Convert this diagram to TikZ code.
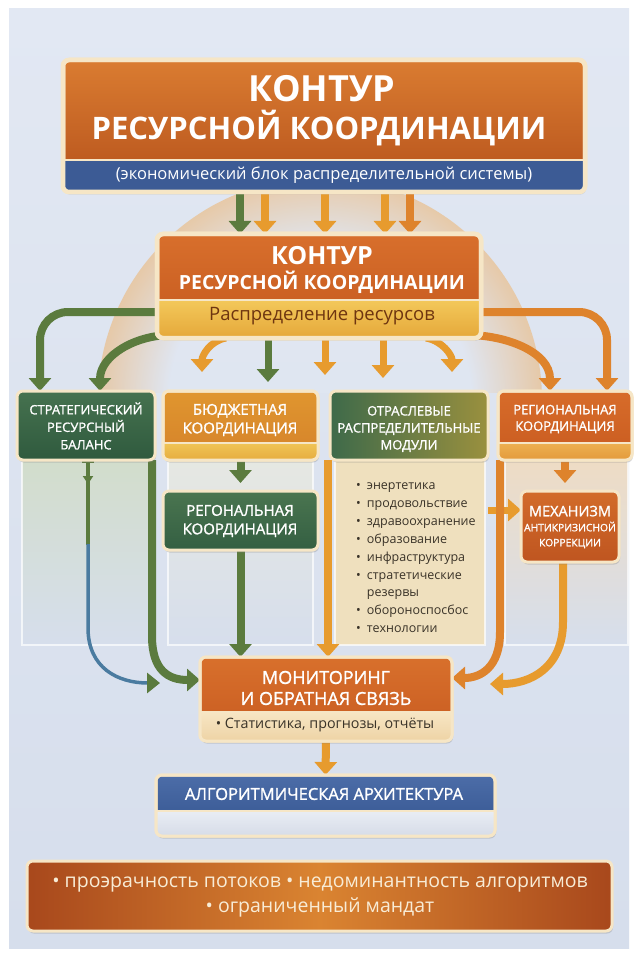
\documentclass[tikz,border=0pt]{standalone}
\usepackage{fontspec}
\setmainfont{Open Sans}
\newfontfamily\semib[FakeBold=1.3]{Open Sans}
\usetikzlibrary{arrows.meta,shadows,calc}
\pgfdeclarelayer{bgl}\pgfdeclarelayer{arl}\pgfsetlayers{bgl,arl,main}
\newcommand\dc[1]{\definecolor{h#1}{HTML}{#1}}
\dc{D2DDCB}\dc{E6E8E2}\dc{EFE0BE}\dc{EEDCC4}\dc{DA7C31}\dc{B5511B}\dc{D86F2C}\dc{C4581E}
\dc{F3C85A}\dc{E5A83A}\dc{46724F}\dc{2F5A3E}\dc{E0962F}\dc{D5822A}\dc{F0C455}\dc{E6AD40}
\dc{3E6A4A}\dc{9A903E}\dc{D76C2A}\dc{C95B20}\dc{EDB050}\dc{E39A3C}\dc{4A7550}\dc{345F42}
\dc{D26C2A}\dc{BF5520}\dc{D8702C}\dc{C75A20}\dc{F7E6C4}\dc{EED3A5}\dc{4C6DA8}\dc{33538E}
\dc{E9EDF4}\dc{D6DCE8}\dc{A8481C}\dc{DA8431}
\definecolor{bgA}{HTML}{E2E8F3}
\definecolor{bgB}{HTML}{D6DEEC}
\definecolor{cream}{HTML}{F6E6C6}
\definecolor{blu}{HTML}{3C5B95}
\definecolor{arG}{HTML}{5B7B3E}
\definecolor{arO}{HTML}{E79B2E}
\definecolor{arO2}{HTML}{DE832C}
\definecolor{arB}{HTML}{4A7BA0}
\definecolor{txtBr}{HTML}{6E3510}
\definecolor{txtD}{HTML}{3A3328}
\definecolor{glowC}{HTML}{EDB36E}
\definecolor{crT}{HTML}{F8ECD6}
\pgfdeclareradialshading{glowsh}{\pgfpoint{0bp}{0bp}}{color(0bp)=(bgA); color(17bp)=(bgA); color(25bp)=(glowC); color(50bp)=(glowC)}
\newcommand\mkstrip[4]{%
  \path[#3] (#1.west |- 0,#2) [rounded corners=5pt] -- (#1.south west) -- (#1.south east) [sharp corners] -- (#1.east |- 0,#2) -- cycle;
  \draw[cream, line width=1.2pt] (#1.west |- 0,#2) -- (#1.east |- 0,#2);
  \draw[cream, line width=#4, rounded corners=6pt] (#1.north west) rectangle (#1.south east);}
\begin{document}
\begin{tikzpicture}[x=1pt,y=-1pt,
  box/.style={draw=cream, line width=3pt, rounded corners=6pt, outer sep=0pt, inner sep=0pt, anchor=north west,
    drop shadow={shadow xshift=1pt,shadow yshift=-2.5pt,opacity=.3}},
  wl/.style={text=white, align=center, inner sep=0pt},
  ga/.style={draw=arG, line width=8pt, -{Triangle[width=22pt,length=13pt]}},
  oa/.style={draw=arO, line width=8pt, -{Triangle[width=22pt,length=13pt]}},
  oa2/.style={draw=arO2, line width=8pt, -{Triangle[width=22pt,length=13pt]}},
  panel/.style={draw=white, draw opacity=.7, line width=1.2pt}
]
\useasboundingbox (0,0) rectangle (638,957);
% ---------- background ----------
\begin{pgfonlayer}{bgl}
\fill[white] (0,0) rectangle (638,957);
\shade[top color=bgA, bottom color=bgB] (9,9) rectangle (629,948);
\begin{scope}
  \clip (0,190) rectangle (638,392);
  \shade[shading=glowsh, opacity=.55] (320,400) circle (222);
\end{scope}
\shade[panel, top color=hD2DDCB, bottom color=bgB] (22,458) rectangle (151,645);
\shade[panel, top color=hE6E8E2, bottom color=bgB] (168,458) rectangle (313,645);
\fill[panel, fill=hEFE0BE] (335,458) rectangle (485,645);
\shade[panel, top color=hEEDCC4, bottom color=bgB] (505,458) rectangle (628,645);
\end{pgfonlayer}
% ---------- boxes ----------
\node[box, minimum width=522pt, minimum height=132pt, top color=hDA7C31, bottom color=hB5511B, line width=4.5pt] (t1) at (63,60) {};
\mkstrip{t1}{160}{fill=blu}{4.5pt}
\node[wl, font=\bfseries\fontsize{36}{40}\selectfont] (t1a) at (322,89) {КОНТУР};
\node[wl, font=\bfseries\fontsize{31}{36}\selectfont] (t1b) at (319,128) {РЕСУРСНОЙ КООРДИНАЦИИ};
\node[wl, font=\fontsize{16.5}{20}\selectfont] (t1c) at (324,175) {(экономический блок распределительной системы)};

\node[box, minimum width=324pt, minimum height=104pt, top color=hD86F2C, bottom color=hC4581E, line width=4.5pt] (sec) at (157,234) {};
\mkstrip{sec}{300}{top color=hF3C85A, bottom color=hE5A83A}{4.5pt}
\node[wl, font=\bfseries\fontsize{25}{28}\selectfont] (s1) at (322,256) {КОНТУР};
\node[wl, font=\bfseries\fontsize{19.5}{23}\selectfont] (s2) at (322,282) {РЕСУРСНОЙ КООРДИНАЦИИ};
\node[wl, text=txtBr, font=\fontsize{18.5}{22}\selectfont] (s3) at (322,316) {Распределение ресурсов};

\node[box, minimum width=138pt, minimum height=69pt, top color=h46724F, bottom color=h2F5A3E] (c1) at (17,391) {};
\node[wl, font=\semib\fontsize{13}{17.5}\selectfont] (c1t) at (86,426) {СТРАТЕГИЧЕСКИЙ\\РЕСУРСНЫЙ\\БАЛАНС};

\node[box, minimum width=155pt, minimum height=69pt, top color=hE0962F, bottom color=hD5822A] (c2) at (163,391) {};
\mkstrip{c2}{443}{top color=hF0C455, bottom color=hE6AD40}{3pt}
\node[wl, font=\semib\fontsize{15}{18.5}\selectfont] (c2t) at (240,420) {БЮДЖЕТНАЯ\\КООРДИНАЦИЯ};

\node[box, minimum width=158pt, minimum height=69pt, left color=h3E6A4A, right color=h9A903E] (c3) at (330,391) {};
\node[wl, font=\semib\fontsize{13}{17}\selectfont] (c3t) at (409,429) {ОТРАСЛЕВЫЕ\\РАСПРЕДЕЛИТЕЛЬНЫЕ\\МОДУЛИ};

\node[box, minimum width=134pt, minimum height=69pt, top color=hD76C2A, bottom color=hC95B20] (c4) at (498,391) {};
\mkstrip{c4}{443}{top color=hEDB050, bottom color=hE39A3C}{3pt}
\node[wl, font=\semib\fontsize{13}{16.5}\selectfont] (c4t) at (565,419) {РЕГИОНАЛЬНАЯ\\КООРДИНАЦИЯ};

\node[box, minimum width=155pt, minimum height=59pt, top color=h4A7550, bottom color=h345F42] (r2) at (163,491) {};
\node[wl, font=\semib\fontsize{15}{18.5}\selectfont] (r2t) at (240,521) {РЕГОНАЛЬНАЯ\\КООРДИНАЦИЯ};

\node[box, minimum width=98pt, minimum height=71pt, top color=hD26C2A, bottom color=hBF5520] (mech) at (521,491) {};
\node[wl, font=\semib\fontsize{10.3}{15}\selectfont] (mecht) at (570,527) {{\fontsize{14.5}{15}\selectfont МЕХАНИЗМ}\\АНТИКРИЗИСНОЙ\\КОРРЕКЦИИ};

\node[anchor=north west, inner sep=0pt, text=txtD, font=\fontsize{12.5}{18}\selectfont] (list) at (356,477)
 {\begin{tabular}{@{}l@{\hspace{6pt}}l@{}}
 •&энертетика\\ •&продовольствие\\ •&здравоохранение\\ •&образование\\ •&инфраструктура\\
 •&стратетические\\[-1pt] &резервы\\ •&обороноспосбос\\ •&технологии\end{tabular}};

\node[box, minimum width=252pt, minimum height=84pt, top color=hD8702C, bottom color=hC75A20] (mon) at (200,657) {};
\mkstrip{mon}{712}{top color=hF7E6C4, bottom color=hEED3A5}{3pt}
\node[wl, font=\semib\fontsize{18}{21}\selectfont] (mont) at (326,688) {МОНИТОРИНГ\\И ОБРАТНАЯ СВЯЗЬ};
\node[wl, text=txtD, font=\fontsize{14.3}{16}\selectfont] (mons) at (325,725) {• Статистика, прогнозы, отчёты};

\node[box, minimum width=339pt, minimum height=61pt, top color=h4C6DA8, bottom color=h33538E] (alg) at (156,775) {};
\mkstrip{alg}{811}{top color=hE9EDF4, bottom color=hD6DCE8}{3pt}
\node[wl, font=\semib\fontsize{16.5}{18}\selectfont] (algt) at (324,794) {АЛГОРИТМИЧЕСКАЯ АРХИТЕКТУРА};

\node[box, minimum width=585pt, minimum height=70pt, left color=hA8481C, right color=hA8481C, middle color=hDA8431] (bot) at (27,861) {};
\node[wl, text=crT, font=\fontsize{19.5}{25}\selectfont] (bott) at (320,897) {• проэрачность потоков • недоминантность алгоритмов\\• ограниченный мандат};

% ---------- arrows ----------
\begin{pgfonlayer}{arl}
% top -> second
\draw[ga] (t1.south -| 240,0) -- (sec.north -| 240,0);
\draw[oa] (t1.south -| 265,0) -- (sec.north -| 265,0);
\draw[oa] (t1.south -| 325,0) -- (sec.north -| 325,0);
\draw[oa] (t1.south -| 385,0) -- (sec.north -| 385,0);
\draw[oa2] (t1.south -| 410,0) -- (sec.north -| 410,0);
% second -> columns
\draw[ga, rounded corners=28pt] (sec.west |- 0,312) -| (c1.north -| 40,0);
\draw[ga] ($(sec.south west)+(14,-3)$) to[out=180,in=90] (c1.north -| 100,0);
\draw[oa2, rounded corners=28pt] (sec.east |- 0,312) -| (c4.north -| 607,0);
\draw[oa2] ($(sec.south east)+(-14,-3)$) to[out=0,in=90] (c4.north -| 550,0);
\draw[oa, line width=7pt] (sec.south -| 226,0) to[out=190,in=90] ($(c2.north -| 202,0)+(0,-19)$);
\draw[ga, line width=7pt] (sec.south -| 268,0) -- ($(c2.north -| 268,0)+(0,-9)$);
\draw[oa, line width=7pt] (sec.south -| 325,0) -- ($(c3.north -| 325,0)+(0,-16)$);
\draw[oa, line width=7pt] (sec.south -| 383,0) -- ($(c3.north -| 383,0)+(0,-13)$);
\draw[oa, line width=7pt] (sec.south -| 426,0) to[out=-10,in=90] ($(c3.north -| 452,0)+(0,-19)$);
% column 1
\draw[arG, line width=2.5pt] (82,462) -- (94,462);
\draw[arG, line width=3.5pt] (c1.south -| 88,0) -- (88,545);
\draw[arG, line width=3.5pt, -{Triangle[width=10pt,length=8pt]}] (88,466) -- (88,484);
\draw[arB, line width=3.5pt, -{Triangle[width=20pt,length=13pt,color=arG]}] (88,544) -- (88,628) .. controls (88,668) and (118,683) .. ($(mon.west |- 0,683)+(-40,0)$);
\draw[ga] (c1.south -| 152,0) -- (152,636) .. controls (152,670) and (168,680) .. (mon.west |- 0,680);
% column 2
\draw[ga] (c2.south) -- ($(r2.north)+(0,-8)$);
\draw[ga] (r2.south) -- (mon.north -| r2.south);
% column 3
\coordinate (c3l) at ($(c3.south west)+(-2,0)$);
\draw[oa] (c3l) -- (c3l |- mon.north);
\draw[oa, line width=7pt] (c3.east |- 0,510) -- (mech.west |- 0,510);
% column 4
\draw[oa2] (c4.south) -- ($(mech.north -| c4.south)+(0,-8)$);
\draw[oa2] (c4.south -| 500,0) -- (500,632) .. controls (500,668) and (480,678) .. (mon.east |- 0,678);
\draw[oa] (mech.south -| 563,0) -- (563,622) .. controls (563,668) and (530,684) .. ($(mon.east |- 0,684)+(38,0)$);
% monitoring -> algorithmic
\draw[oa] (mon.south) -- (alg.north);
\end{pgfonlayer}
\end{tikzpicture}
\end{document}
